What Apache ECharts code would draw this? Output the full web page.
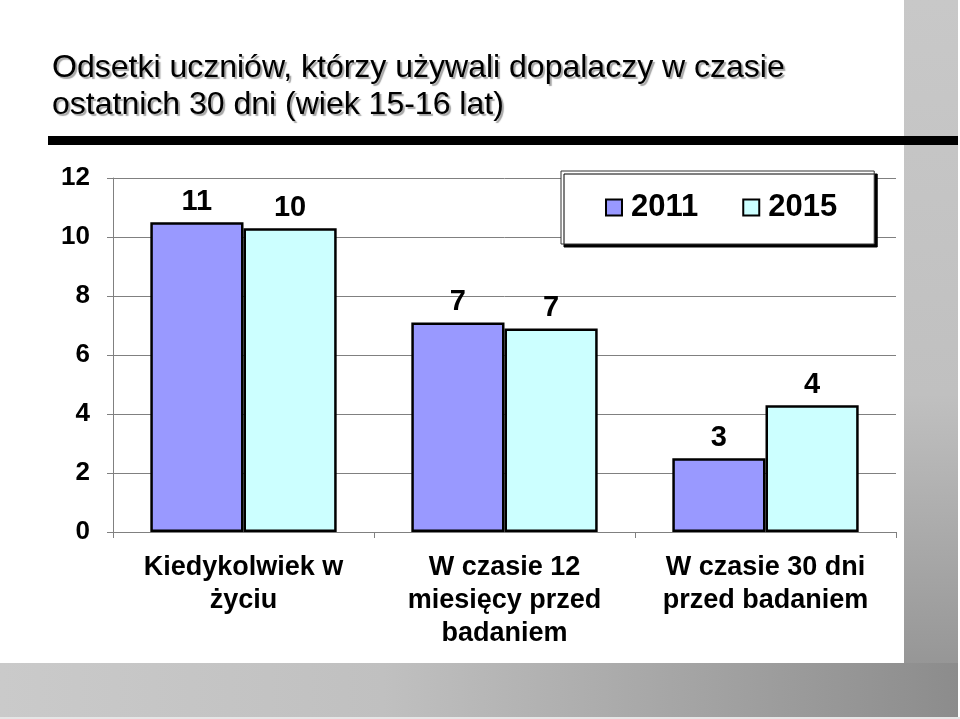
<!DOCTYPE html>
<html>
<head>
<meta charset="utf-8">
<script src="https://cdn.jsdelivr.net/npm/echarts@6/dist/echarts.min.js"></script>
<style>html,body{margin:0;padding:0;background:#fff}#c{width:960px;height:719px}</style>
</head>
<body>
<div id="c"></div>
<script>
var titleText = 'Odsetki uczniów, którzy używali dopalaczy w czasie\nostatnich 30 dni (wiek 15-16 lat)';
var categories = ['Kiedykolwiek w\nżyciu', 'W czasie 12\nmiesięcy przed\nbadaniem', 'W czasie 30 dni\nprzed badaniem'];
var seriesNames = ['2011', '2015'];
var values2011 = [10.5, 7.1, 2.5];
var values2015 = [10.3, 6.9, 4.3];
var yTicks = [0, 2, 4, 6, 8, 10, 12];

var FONT = 'Arial, "Liberation Sans", sans-serif';
var chart = echarts.init(document.getElementById('c'));
chart.setOption({
  backgroundColor: '#ffffff',
  animation: false,
  title: {
    text: titleText,
    left: 47, top: 45,
    textStyle: {
      fontFamily: FONT, fontSize: 32, fontWeight: 'normal', color: '#000',
      lineHeight: 37,
      textShadowColor: 'rgba(0,0,0,0.35)', textShadowOffsetX: 2, textShadowOffsetY: 2, textShadowBlur: 1
    }
  },
  graphic: [
    { type: 'rect', shape: { x: 904, y: 0, width: 54, height: 717 },
      style: { fill: { type: 'linear', x: 0, y: 0, x2: 0, y2: 1,
        colorStops: [{ offset: 0, color: '#c8c8c8' }, { offset: 0.55, color: '#c0c0c0' }, { offset: 1, color: '#8e8e8e' }] } } },
    { type: 'rect', shape: { x: 0, y: 663, width: 958, height: 54 },
      style: { fill: { type: 'linear', x: 0, y: 0, x2: 1, y2: 0,
        colorStops: [{ offset: 0, color: '#cacaca' }, { offset: 0.4, color: '#c0c0c0' }, { offset: 1, color: '#8c8c8c' }] } } },
    { type: 'rect', shape: { x: 0, y: 717, width: 960, height: 2 }, style: { fill: '#e6e6e6' } },
    { type: 'rect', shape: { x: 48, y: 136, width: 910, height: 9 }, style: { fill: '#000' } }
  ],
  legend: {
    data: seriesNames,
    left: 561, top: 171,
    padding: [21, 37, 21, 44],
    itemWidth: 16, itemHeight: 16, itemGap: 44,
    icon: 'rect',
    backgroundColor: '#fff',
    borderColor: '#333', borderWidth: 1,
    shadowColor: '#000', shadowOffsetX: 3, shadowOffsetY: 3, shadowBlur: 0,
    textStyle: { fontFamily: FONT, fontSize: 31, fontWeight: 'bold', color: '#000', padding: [0, 0, 0, 4] }
  },
  grid: { left: 113, right: 64, top: 178, bottom: 187 },
  xAxis: {
    type: 'category',
    data: categories,
    axisLine: { lineStyle: { color: '#808080', width: 1 } },
    axisTick: { show: true, length: 6, lineStyle: { color: '#808080' } },
    axisLabel: { fontFamily: FONT, fontSize: 27, fontWeight: 'bold', color: '#000', lineHeight: 33, margin: 19, interval: 0 }
  },
  yAxis: {
    type: 'value',
    min: yTicks[0], max: yTicks[yTicks.length - 1], interval: 2,
    axisLine: { show: true, lineStyle: { color: '#808080', width: 1 } },
    axisTick: { show: true, length: 6, inside: false, lineStyle: { color: '#808080' } },
    splitLine: { show: true, lineStyle: { color: '#808080', width: 1 } },
    axisLabel: { fontFamily: FONT, fontSize: 26, fontWeight: 'bold', color: '#000', margin: 23 }
  },
  series: [
    { name: seriesNames[0], type: 'bar', data: values2011, barWidth: '35.7%', barGap: '0%',
      itemStyle: { color: '#9999ff', borderColor: '#000', borderWidth: 2.5 },
      label: { show: true, position: 'top', distance: 6, fontFamily: FONT, fontSize: 29, fontWeight: 'bold', color: '#000',
        formatter: function (p) { return Math.round(p.value); } } },
    { name: seriesNames[1], type: 'bar', data: values2015, barWidth: '35.7%', barGap: '0%',
      itemStyle: { color: '#ccffff', borderColor: '#000', borderWidth: 2.5 },
      label: { show: true, position: 'top', distance: 6, fontFamily: FONT, fontSize: 29, fontWeight: 'bold', color: '#000',
        formatter: function (p) { return Math.round(p.value); } } }
  ]
});
</script>
</body>
</html>
